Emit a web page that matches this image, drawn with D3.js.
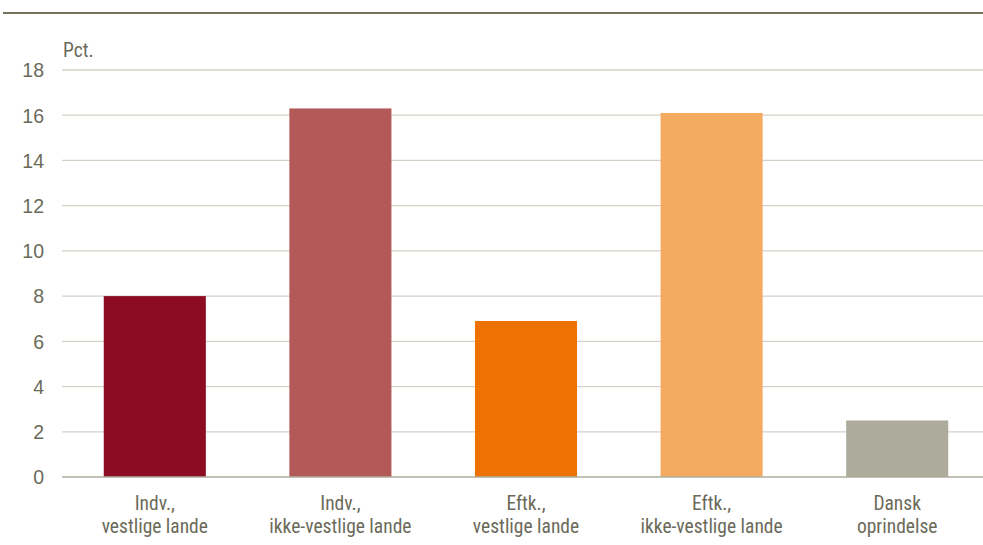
<!DOCTYPE html>
<html>
<head>
<meta charset="utf-8">
<script src="https://cdn.jsdelivr.net/npm/d3@7"></script>
<style>
  html, body { margin: 0; padding: 0; background: #ffffff; }
  svg { display: block; }
  text { font-family: "Liberation Sans Narrow", "Arial Narrow", "Roboto Condensed", "Liberation Sans", Arial, sans-serif; }
</style>
</head>
<body>
<svg id="chart" width="983" height="545"></svg>
<script>
const categories = [
  ["Indv.,", "vestlige lande"],
  ["Indv.,", "ikke-vestlige lande"],
  ["Eftk.,", "vestlige lande"],
  ["Eftk.,", "ikke-vestlige lande"],
  ["Dansk", "oprindelse"]
];
const values = [8.0, 16.3, 6.9, 16.1, 2.5];
const barColors = ["#8b0c23", "#b35a58", "#ee7203", "#f5aa62", "#adab9c"];
const yTicks = [0, 2, 4, 6, 8, 10, 12, 14, 16, 18];
const unitLabel = "Pct.";

(function () {
const svg = d3.select("#chart");
const W = 983;
const mLeft = 62, mRight = 990, mTop = 70, mBottom = 477;
const fs = 19.5;
const txt = "#6b6a5a";

// top rule
svg.append("line")
  .attr("x1", 3).attr("x2", W)
  .attr("y1", 13).attr("y2", 13)
  .attr("stroke", "#75715a").attr("stroke-width", 2);

const y = d3.scaleLinear().domain([0, 18]).range([mBottom, mTop]);
const x = d3.scaleBand()
  .domain(d3.range(categories.length))
  .range([mLeft, mRight])
  .paddingInner(0.45).paddingOuter(0.225);

// gridlines
svg.append("g").selectAll("line")
  .data(yTicks.filter(d => d !== 0))
  .join("line")
  .attr("x1", mLeft).attr("x2", W)
  .attr("y1", d => y(d)).attr("y2", d => y(d))
  .attr("stroke", "#d3d1c6").attr("stroke-width", 1.3);

// y axis tick labels
const yAxis = d3.axisLeft(y).tickValues(yTicks).tickSize(0).tickPadding(0).tickFormat(d3.format("d"));
const gy = svg.append("g").attr("transform", "translate(44,0)").call(yAxis);
gy.select(".domain").remove();
gy.selectAll("text")
  .attr("fill", txt)
  .attr("font-size", fs)
  .attr("dy", "0.35em")
  .style("font-family", '"Liberation Sans Narrow", "Arial Narrow", "Liberation Sans", Arial, sans-serif');

// unit label
svg.append("text")
  .attr("x", 63).attr("y", 57)
  .attr("fill", txt)
  .attr("font-size", fs)
  .text(unitLabel);

// bars
svg.append("g").selectAll("rect")
  .data(values)
  .join("rect")
  .attr("x", (d, i) => x(i))
  .attr("width", x.bandwidth())
  .attr("y", d => y(d))
  .attr("height", d => y(0) - y(d))
  .attr("fill", (d, i) => barColors[i]);

// baseline
svg.append("line")
  .attr("x1", mLeft).attr("x2", W)
  .attr("y1", y(0)).attr("y2", y(0))
  .attr("stroke", "#aeac9c").attr("stroke-width", 1.3);

// category labels
const labels = svg.append("g").selectAll("text")
  .data(categories)
  .join("text")
  .attr("text-anchor", "middle")
  .attr("fill", txt)
  .attr("font-size", fs)
  .attr("x", (d, i) => x(i) + x.bandwidth() / 2);
labels.each(function (d) {
  const t = d3.select(this);
  d.forEach((line, k) => {
    t.append("tspan")
      .attr("x", t.attr("x"))
      .attr("y", 510 + k * 23)
      .text(line);
  });
});
})();
</script>
</body>
</html>
